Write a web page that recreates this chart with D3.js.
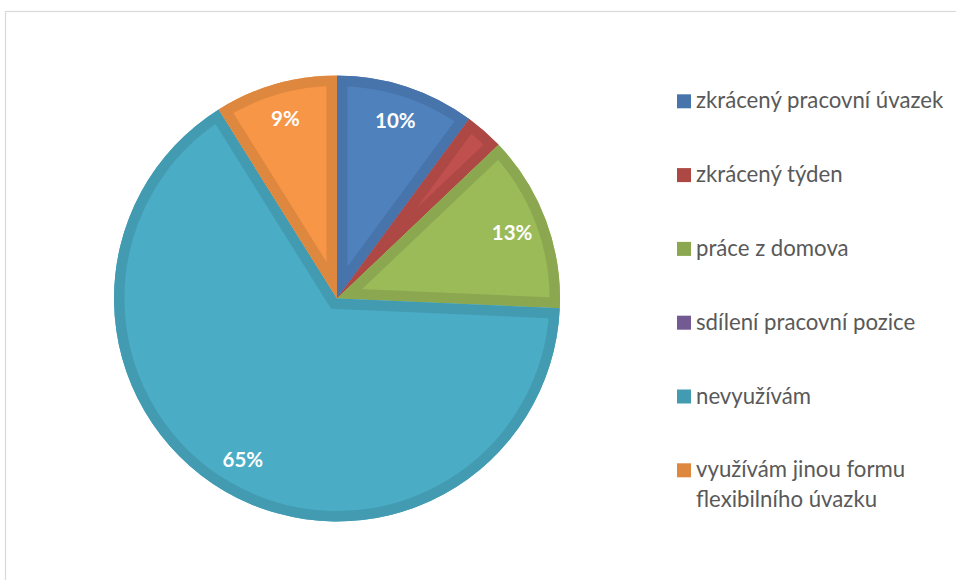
<!DOCTYPE html>
<html>
<head>
<meta charset="utf-8">
<script src="https://cdn.jsdelivr.net/npm/d3@7"></script>
<style>
  html, body { margin: 0; padding: 0; background: #ffffff; }
  svg { display: block; }
</style>
</head>
<body>
<svg id="chart" width="956" height="580"></svg>
<script>
// Forms of flexible work arrangements (share of respondents, %)
const categories = [
  "zkrácený pracovní úvazek",
  "zkrácený týden",
  "práce z domova",
  "sdílení pracovní pozice",
  "nevyužívám",
  "využívám jinou formu flexibilního úvazku"
];
const values = [10.1, 2.8, 12.8, 0, 65.4, 8.9];
const colors = ["#4F81BD", "#C0504D", "#9BBB59", "#8064A2", "#4BACC6", "#F79646"];
// legend entries, wrapped onto lines
const legendLines = [
  ["zkrácený pracovní úvazek"],
  ["zkrácený týden"],
  ["práce z domova"],
  ["sdílení pracovní pozice"],
  ["nevyužívám"],
  ["využívám jinou formu", "flexibilního úvazku"]
];

const svg = d3.select("#chart");
const W = 956, H = 580;

// chart area frame
svg.append("rect")
  .attr("x", 5.5).attr("y", 11.5)
  .attr("width", W + 20).attr("height", H + 20)
  .attr("fill", "#ffffff")
  .attr("stroke", "#d9d9d9")
  .attr("stroke-width", 1.2);

const cx = 337, cy = 298.5, R = 223;
const band = 10.5;           // width of the darker inner border of every slice
const labelR = 187;

const total = d3.sum(values);
const data = categories.map((c, i) => ({ name: c, value: values[i], color: colors[i] }));

const pie = d3.pie().value(d => d.value).sort(null);
const arc = d3.arc().innerRadius(0).outerRadius(R);
const labelArc = d3.arc().innerRadius(labelR).outerRadius(labelR);
const arcs = pie(data);

const defs = svg.append("defs");
const g = svg.append("g").attr("transform", `translate(${cx},${cy})`);

const slices = g.selectAll("g.slice").data(arcs).enter().append("g").attr("class", "slice");

slices.each(function(d, i) {
  const sel = d3.select(this);
  const path = arc(d);
  const clipId = "clip-" + i;
  defs.append("clipPath").attr("id", clipId)
    .append("path").attr("d", path);
  const darker = d3.color(d.data.color).darker(0.3).formatHex();
  sel.append("path")
    .attr("d", path)
    .attr("fill", d.data.color);
  // inner border: a wide stroke clipped to the slice's own shape
  sel.append("path")
    .attr("d", path)
    .attr("fill", "none")
    .attr("stroke", darker)
    .attr("stroke-width", band * 2)
    .attr("stroke-linejoin", "miter")
    .attr("stroke-miterlimit", 200)
    .attr("clip-path", `url(#${clipId})`);
});

// data labels
g.selectAll("text.lbl")
  .data(arcs.filter(d => d.data.value / total >= 0.05))
  .enter().append("text")
  .attr("class", "lbl")
  .attr("transform", d => `translate(${labelArc.centroid(d)})`)
  .attr("text-anchor", "middle")
  .attr("dy", "0.36em")
  .attr("fill", "#ffffff")
  .attr("font-family", "Lato, 'Open Sans', sans-serif")
  .attr("font-weight", "bold")
  .attr("font-size", 20.5)
  .text(d => Math.round(d.data.value / total * 100) + "%");

// legend
const legend = svg.append("g").attr("transform", "translate(677,0)");
const rowStep = 73.8, firstBaseline = 108.3, sq = 14;
legendLines.forEach((lines, i) => {
  const y = firstBaseline + i * rowStep;
  const row = legend.append("g");
  row.append("rect")
    .attr("x", 0).attr("y", y - sq)
    .attr("width", sq).attr("height", sq)
    .attr("fill", d3.color(colors[i]).darker(0.3).formatHex());
  const t = row.append("text")
    .attr("fill", "#595959")
    .attr("font-family", "Lato, 'Open Sans', sans-serif")
    .attr("font-size", 22.2);
  lines.forEach((ln, j) => {
    t.append("tspan").attr("x", sq + 5).attr("y", y + j * 30).text(ln);
  });
});
</script>
</body>
</html>
